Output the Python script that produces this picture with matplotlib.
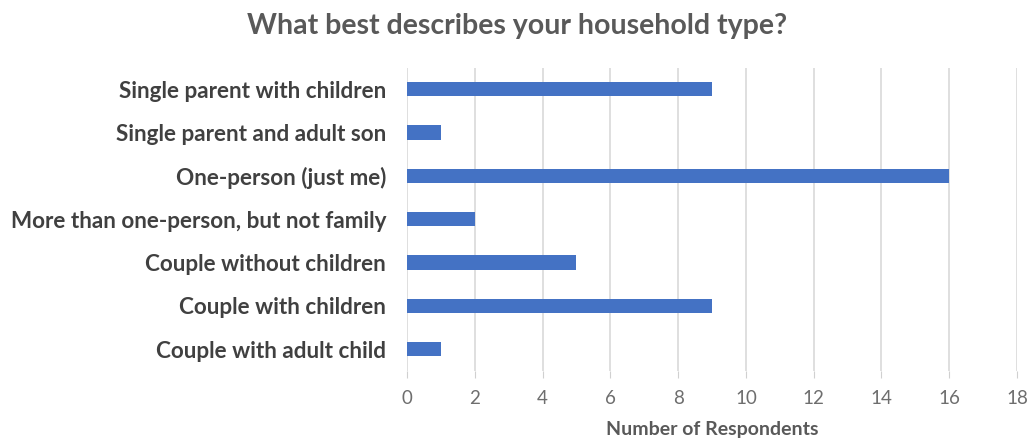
import matplotlib.pyplot as plt

categories = ['Couple with adult child', 'Couple with children', 'Couple without children',
              'More than one-person, but not family', 'One-person (just me)',
              'Single parent and adult son', 'Single parent with children']
respondents = [1, 9, 5, 2, 16, 1, 9]
x_ticks = [0, 2, 4, 6, 8, 10, 12, 14, 16, 18]

plt.rcParams['font.family'] = ['Lato', 'DejaVu Sans']

fig = plt.figure(figsize=(10.34, 4.43), dpi=100)
ax = fig.add_axes([0.3936, 0.163, 0.59, 0.6846])

ax.barh(range(len(categories)), respondents, height=0.33, color='#4472C4', zorder=3)

ax.set_xlim(0, 18)
ax.set_ylim(-0.5, len(categories) - 0.5)
ax.set_xticks(x_ticks)
ax.set_yticks(range(len(categories)))
ax.set_yticklabels(categories, fontsize=16.2, fontweight='bold', color='#404040')
ax.tick_params(axis='y', length=0, pad=15)
ax.tick_params(axis='x', length=5, color='#d0d0d0', labelcolor='#6e6e6e', labelsize=13.5, pad=9)
ax.grid(axis='x', color='#d9d9d9', linewidth=1.2, zorder=0)
for s in ax.spines.values():
    s.set_visible(False)

ax.set_xlabel('Number of Respondents', fontsize=14, fontweight='bold', color='#595959', labelpad=10)
fig.suptitle('What best describes your household type?', fontsize=20.5, fontweight='bold',
             color='#595959', x=0.5, y=0.97)

fig.savefig('out.png')
